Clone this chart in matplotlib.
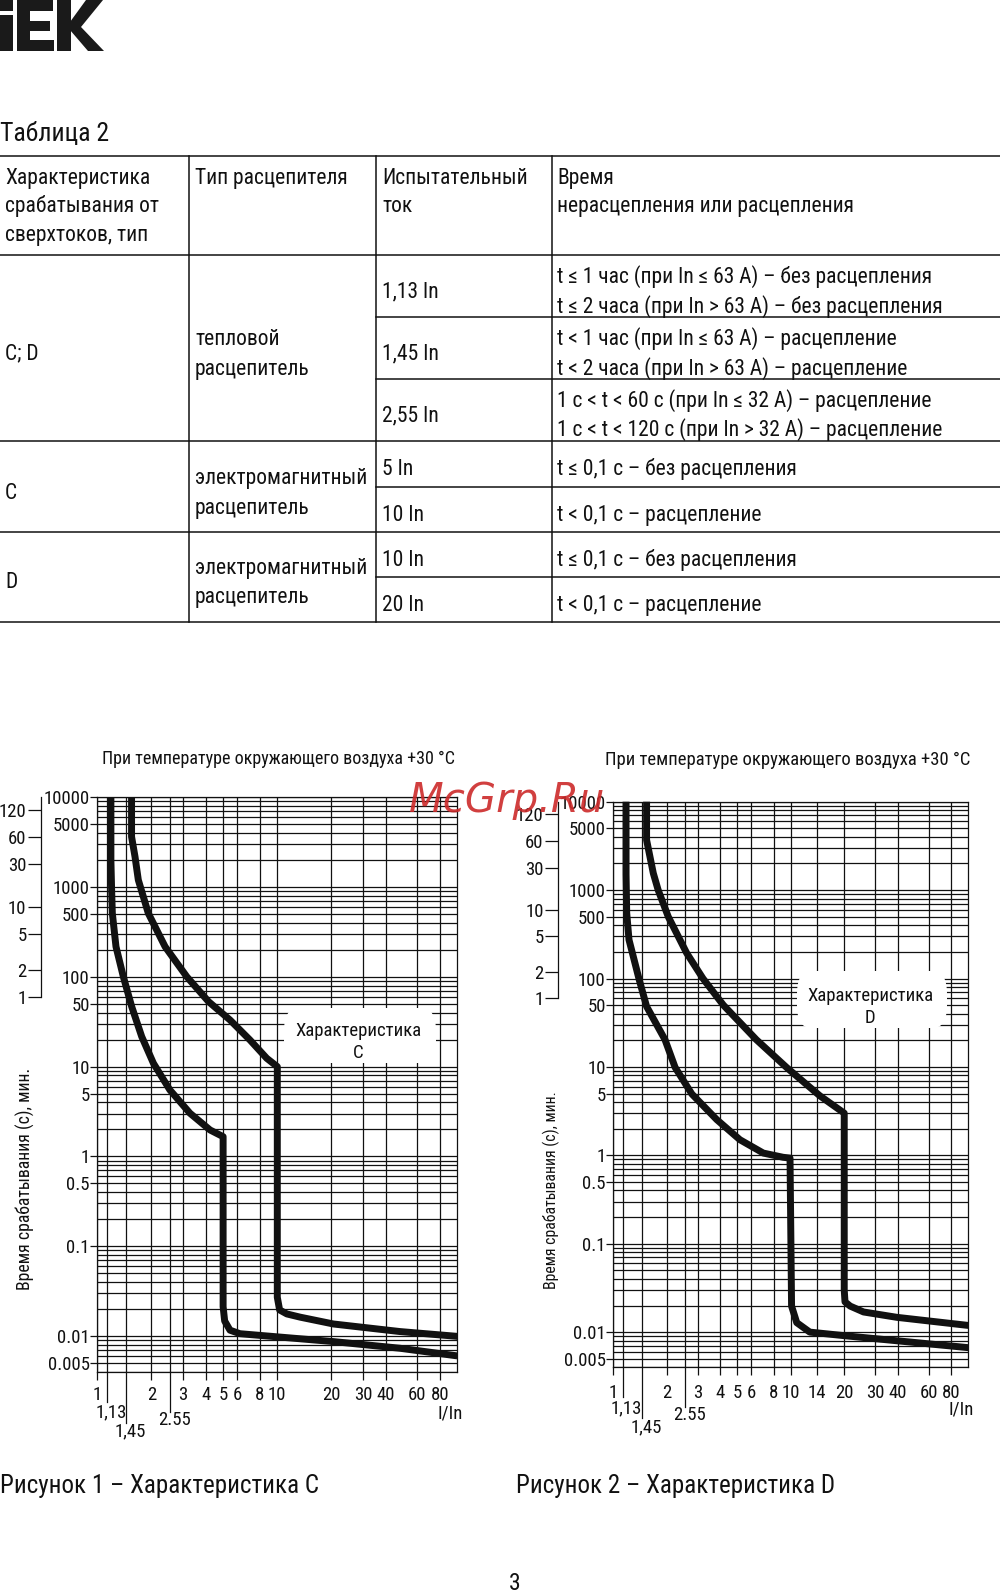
import numpy as np
import matplotlib
matplotlib.use("Agg")
import matplotlib.pyplot as plt
from matplotlib import font_manager as fm
from matplotlib.lines import Line2D
from matplotlib.patches import Polygon, FancyBboxPatch
from matplotlib.transforms import Affine2D, offset_copy
from matplotlib.ticker import FixedLocator, FixedFormatter, LogLocator, NullFormatter, NullLocator

# ------------------------------------------------------------------ data
title_text = "При температуре окружающего воздуха +30 °C"
ylabel_text = "Время срабатывания (с), мин."
xlabel_text = "I/In"

y_major = [0.005, 0.01, 0.1, 0.5, 1, 5, 10, 50, 100, 500, 1000, 5000, 10000]
y_major_labels = ["0.005", "0.01", "0.1", "0.5", "1", "5", "10", "50", "100",
                  "500", "1000", "5000", "10000"]
minute_ticks = [1, 2, 5, 10, 30, 60, 120]
minute_labels = ["1", "2", "5", "10", "30", "60", "120"]

x_main_c = [1, 2, 3, 4, 5, 6, 8, 10, 20, 30, 40, 60, 80]
x_main_d = [1, 2, 3, 4, 5, 6, 8, 10, 14, 20, 30, 40, 60, 80]
x_special = [1.13, 1.45, 2.55]
x_special_labels = ["1,13", "1,45", "2.55"]

# characteristic C : current multiple I/In, tripping time (s)
c1_i = [1.19, 1.19, 1.20, 1.212, 1.27, 1.395, 1.553, 1.765, 2.05, 2.53, 3.27, 4.23, 5.0,
        5.0, 5.1, 5.46, 6.2, 20.5, 48, 100]
c1_t = [10000, 2000, 1000, 511, 217, 100.5, 46.6, 21.6, 10.9, 5.5, 3.03, 1.97, 1.66,
        0.0212, 0.0147, 0.0116, 0.0106, 0.00866, 0.0073, 0.006]
c2_i = [1.55, 1.55, 1.62, 1.69, 1.92, 2.38, 3.14, 4.15, 5.46, 7.05, 8.73, 10.0,
        10.0, 10.3, 11.3, 13.4, 20.5, 48, 100]
c2_t = [10000, 3640, 2180, 1200, 511, 217, 100.5, 53, 33.1, 19.8, 12.4, 10.0,
        0.027, 0.0195, 0.0176, 0.0162, 0.0136, 0.0112, 0.0099]

# characteristic D
d1_i = [1.18, 1.18, 1.19, 1.226, 1.40, 1.54, 1.956, 2.23, 2.77, 3.83, 5.17, 7.0, 9.05, 9.9,
        10.1, 10.8, 12.8, 20.2, 100]
d1_t = [10000, 1500, 550, 274, 96.6, 48.3, 20.3, 9.87, 4.94, 2.53, 1.5, 1.06, 0.95, 0.93,
        0.0197, 0.0128, 0.0100, 0.0091, 0.00667]
d2_i = [1.54, 1.54, 1.68, 1.79, 2.04, 2.59, 3.2, 4.17, 6.4, 9.5, 14.6, 20.0,
        20.0, 20.2, 21.6, 25.7, 39.6, 100]
d2_t = [10000, 3690, 1553, 1000, 500, 194, 100, 50, 20.3, 9.8, 4.7, 3.0,
        0.030, 0.022, 0.0197, 0.0169, 0.0147, 0.0119]

# table
table_title = "Таблица 2"
table_header = [["Характеристика", "срабатывания от", "сверхтоков, тип"],
                ["Тип расцепителя"],
                ["Испытательный", "ток"],
                ["Время", "нерасцепления или расцепления"]]
table_types = ["C; D", "C", "D"]
table_releases = [["тепловой", "расцепитель"],
                  ["электромагнитный", "расцепитель"],
                  ["электромагнитный", "расцепитель"]]
table_currents = ["1,13 In", "1,45 In", "2,55 In", "5 In", "10 In", "10 In", "20 In"]
table_times = [["t ≤ 1 час (при In ≤ 63 А) – без расцепления",
                "t ≤ 2 часа (при In > 63 А) – без расцепления"],
               ["t < 1 час (при In ≤ 63 А) – расцепление",
                "t < 2 часа (при In > 63 А) – расцепление"],
               ["1 с < t < 60 с (при In ≤ 32 А) – расцепление",
                "1 с < t < 120 с (при In > 32 А) – расцепление"],
               ["t ≤ 0,1 с – без расцепления"],
               ["t < 0,1 с – расцепление"],
               ["t ≤ 0,1 с – без расцепления"],
               ["t < 0,1 с – расцепление"]]
caption_c = "Рисунок 1 – Характеристика C"
caption_d = "Рисунок 2 – Характеристика D"
label_c = "Характеристика\nC"
label_d = "Характеристика\nD"
page_no = "3"
watermark = "McGrp.Ru"

# ------------------------------------------------------------------ fonts
cond_names = {f.name for f in fm.fontManager.ttflist
              if str(f.stretch) in ("condensed", "semi-condensed", "extra-condensed")}
FAM = "Liberation Sans"
STRETCH = "normal"
for cand in ["Liberation Sans Narrow", "Roboto Condensed", "Open Sans Condensed",
             "Noto Sans", "Roboto", "Open Sans", "DejaVu Sans"]:
    if cand in cond_names:
        FAM = cand
        STRETCH = "condensed"
        break
plt.rcParams["font.family"] = [FAM, "DejaVu Sans"]
plt.rcParams["font.stretch"] = STRETCH

# ------------------------------------------------------------------ figure
W, H = 1000, 1594
fig = plt.figure(figsize=(W / 100, H / 100), dpi=100)
px = Affine2D().scale(1 / W, -1 / H).translate(0, 1) + fig.transFigure
INK = "#111111"


def ftext(x, y, s, size, ha="left", **kw):
    # y = visual centre of capitals, in pixels from top
    base = y + 0.36 * size * 100 / 72
    fig.text(x, base, s, fontsize=size, ha=ha, va="baseline", transform=px, color=INK, **kw)


def fline(x0, y0, x1, y1, lw=1.1):
    fig.add_artist(Line2D([x0, x1], [y0, y1], transform=px, color=INK, lw=lw))


# logo
logo_shapes = [
    [(0, 0), (13, 0), (13, 11), (0, 11)],
    [(0, 15), (13, 15), (13, 51), (0, 51)],
    [(17, 0), (53, 0), (53, 11), (30, 11), (30, 21), (50, 21), (50, 31), (30, 31),
     (30, 40), (54, 40), (54, 51), (17, 51)],
    [(57, 0), (71, 0), (71, 51), (57, 51)],
    [(70, 22), (86, 0), (103, 0), (81, 27), (104, 51), (88, 51), (70, 30)],
]
for pts in logo_shapes:
    fig.add_artist(Polygon(pts, closed=True, transform=px, facecolor="#1a1a1a", edgecolor="none"))

# table
TS = 15.5
ftext(0, 132, table_title, 18.5)
col_x = [189, 376, 552]
txt_x = [5, 195, 382, 557]
y_top, y_bot = 156.4, 622
for cx in col_x:
    fline(cx, y_top, cx, y_bot)
for y in [156.4, 255.3, 441, 532.5, 622]:
    fline(0, y, W, y)
for y in [317.3, 379.3, 487.5, 577]:
    fline(col_x[1], y, W, y)

head_y = [175.8, 204.6, 233.4]
for c, lines in enumerate(table_header):
    for k, s in enumerate(lines):
        ftext(txt_x[c], head_y[k], s, TS)

type_y = [351.6, 490.9, 580.3]
release_y = [[337.4, 366.9], [476.6, 506], [566, 595.5]]
for k, s in enumerate(table_types):
    ftext(txt_x[0], type_y[k], s, TS)
    for j, r in enumerate(table_releases[k]):
        ftext(txt_x[1], release_y[k][j], r, TS)

cur_y = [289.6, 351.6, 413.6, 467.5, 513.2, 558, 603.7]
time_y = [[275.4, 304.9], [337.4, 366.9], [399.4, 427.8], [467.5], [513.2], [558], [603.7]]
for k, s in enumerate(table_currents):
    ftext(txt_x[2], cur_y[k], s, TS)
    for j, s2 in enumerate(table_times[k]):
        ftext(txt_x[3], time_y[k][j], s2, TS)

# ------------------------------------------------------------------ charts
FS = 13.5


def make_chart(box, x_main, curves, sec_x, title_cx, title_fs, ylab_xy, ylab_fs, lab_text,
               lab_box, lab_xy, xpad):
    x0, y0, x1, y1 = box
    ah = y1 - y0
    ax = fig.add_axes([x0 / W, 1 - y1 / H, (x1 - x0) / W, (y1 - y0) / H])
    ax.set_xscale("log")
    ax.set_yscale("log")
    ax.set_xlim(1, 100)
    ax.set_ylim(0.004, 10000)
    ax.set_axisbelow(True)

    ax.xaxis.set_major_locator(FixedLocator(x_main))
    ax.xaxis.set_major_formatter(FixedFormatter([str(v) for v in x_main]))
    ax.xaxis.set_minor_locator(FixedLocator(x_special))
    ax.xaxis.set_minor_formatter(NullFormatter())
    ax.yaxis.set_major_locator(FixedLocator(y_major))
    ax.yaxis.set_major_formatter(FixedFormatter(y_major_labels))
    ax.yaxis.set_minor_locator(LogLocator(base=10, subs=np.arange(2, 10), numticks=200))
    ax.yaxis.set_minor_formatter(NullFormatter())

    ax.grid(True, which="both", color=INK, lw=0.9)
    for sp in ax.spines.values():
        sp.set_color(INK)
        sp.set_linewidth(0.9)
    ax.tick_params(axis="x", which="major", length=6, width=0.9, pad=xpad, labelsize=FS,
                   colors=INK)
    ax.tick_params(axis="y", which="major", length=5, width=0.9, pad=0.5, labelsize=FS,
                   colors=INK)
    ax.tick_params(which="minor", length=0)

    for ci, ct in curves:
        ax.plot(ci, ct, color=INK, lw=5, solid_joinstyle="round", solid_capstyle="butt",
                zorder=3, clip_on=False)

    # special (long) ticks with lower labels
    tl = [30, 51, 40]
    lo = [41, 60, 48]
    xt = ax.get_xaxis_transform()
    for v, L, off, lab in zip(x_special, tl, lo, x_special_labels):
        ax.plot([v, v], [0, -L / ah], transform=xt, color=INK, lw=0.9, clip_on=False)
        ax.text(v, -off / ah, lab, transform=offset_copy(xt, fig=fig, x=4, y=0, units="dots"),
                ha="center", va="center", fontsize=FS, color=INK)
    ax.text(1.0, -42 / ah, xlabel_text,
            transform=offset_copy(ax.transAxes, fig=fig, x=6, y=0, units="dots"),
            ha="right", va="center", fontsize=FS, color=INK)

    # minutes bracket
    sec = ax.secondary_yaxis((sec_x - x0) / (x1 - x0),
                             functions=(lambda s: s / 60.0, lambda m: m * 60.0))
    sec.yaxis.set_major_locator(FixedLocator(minute_ticks))
    sec.yaxis.set_major_formatter(FixedFormatter(minute_labels))
    sec.yaxis.set_minor_locator(NullLocator())
    sec.tick_params(axis="y", length=9.5, width=0.9, pad=1, labelsize=FS, colors=INK)
    for nm in ("left", "right"):
        sec.spines[nm].set_bounds(1, 10000 / 60.0)
        sec.spines[nm].set_linewidth(0.9)
        sec.spines[nm].set_color(INK)

    # label box
    bx0, by0, bx1, by1 = lab_box
    ax.add_patch(FancyBboxPatch(((bx0 - x0) / (x1 - x0), 1 - (by1 - y0) / ah),
                                (bx1 - bx0) / (x1 - x0), (by1 - by0) / ah,
                                boxstyle="round,pad=0,rounding_size=0.04",
                                transform=ax.transAxes, facecolor="white",
                                edgecolor="none", zorder=2.5))
    ax.text((lab_xy[0] - x0) / (x1 - x0), 1 - (lab_xy[1] - y0) / ah, lab_text,
            transform=ax.transAxes, ha="center", va="center", fontsize=FS,
            linespacing=1.25, color=INK, zorder=4)

    fig.text(title_cx, 758 + 0.36 * title_fs * 100 / 72, title_text, fontsize=title_fs,
             ha="center", va="baseline", transform=px, color=INK)
    fig.text(ylab_xy[0], ylab_xy[1], ylabel_text, fontsize=ylab_fs, rotation=90,
             ha="center", va="center", transform=px, color=INK)
    return ax


make_chart((97.3, 797.3, 457.3, 1371.7), x_main_c, [(c1_i, c1_t), (c2_i, c2_t)],
           41, 279, 13, (25.4, 1179), 12.8, label_c, (284, 1008, 436, 1063), (358, 1042), 4)
make_chart((613.3, 801.7, 968.3, 1367.3), x_main_d, [(d1_i, d1_t), (d2_i, d2_t)],
           558.3, 788, 13.4, (551, 1190), 11.3, label_d, (797, 971, 947, 1028), (870, 1007), 6)

# captions
ftext(0, 1484, caption_c, 18)
ftext(516, 1484, caption_d, 18)
ftext(515, 1582, page_no, 17, ha="center")

# watermark
fig.text(507, 798 + 14, watermark, fontsize=29, ha="center", va="baseline", transform=px,
         color="#cc2a2a", alpha=0.9, family="DejaVu Sans", style="oblique",
         stretch="normal", zorder=10)

fig.savefig("out.png", dpi=100, facecolor="white")
